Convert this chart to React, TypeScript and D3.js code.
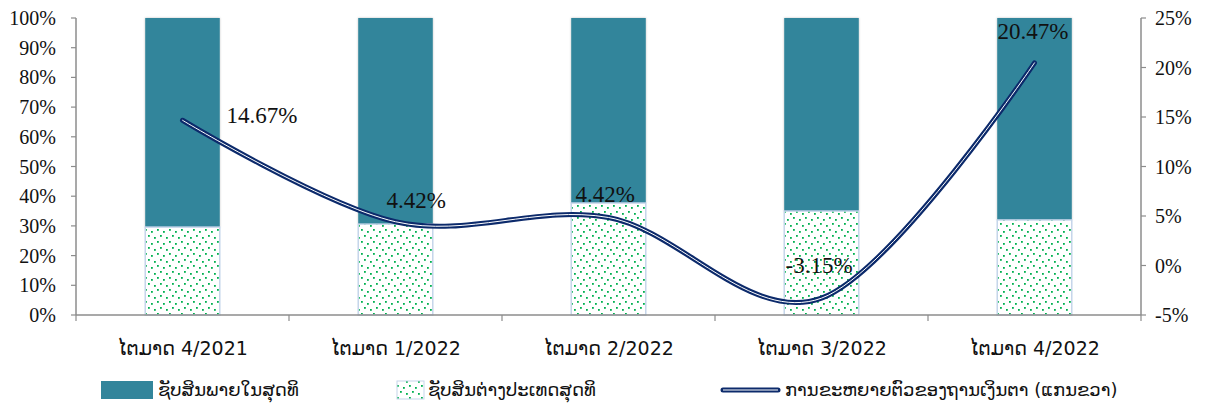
import React from "react";
import * as d3 from "d3";

const categories = ["ໄຕມາດ 4/2021", "ໄຕມາດ 1/2022", "ໄຕມາດ 2/2022", "ໄຕມາດ 3/2022", "ໄຕມາດ 4/2022"];
const foreignShare = [29.6, 30.6, 37.7, 35.0, 32.0];
const domesticShare = [70.4, 69.4, 62.3, 65.0, 68.0];
const growthValues = [14.67, 4.42, 4.85, -3.3, 20.47];
const growthLabels = ["14.67%", "4.42%", "4.42%", "-3.15%", "20.47%"];
const leftTicks = [0, 10, 20, 30, 40, 50, 60, 70, 80, 90, 100];
const rightTicks = [-5, 0, 5, 10, 15, 20, 25];
const legendNames = ["ຊັບສິນພາຍໃນສຸດທິ", "ຊັບສິນຕ່າງປະເທດສຸດທິ", "ການຂະຫຍາຍຕົວຂອງຖານເງິນຕາ (ແກນຂວາ)"];

const W = 1208, H = 405;
const left = 76, right = 1141, top = 18, bottom = 315;
const teal = "#32859b";
const navy = "#0c2a6b";
const axisColor = "#8c8c8c";
const serif = "'Liberation Serif', 'Times New Roman', serif";
const laoFont = "'DejaVu Sans', sans-serif";

// label offsets relative to point (text placement)
const labelDx = [44, -9, -33, -36, -37];
const labelDy = [-5, -22, -24, -33, -32];

export default function App() {
  const x = d3.scaleBand<string>().domain(categories).range([left, right]).paddingInner(0.65).paddingOuter(0.325);
  const yL = d3.scaleLinear().domain([0, 100]).range([bottom, top]);
  const yR = d3.scaleLinear().domain([-5, 25]).range([bottom, top]);
  const cx = (i: number) => (x(categories[i]) as number) + x.bandwidth() / 2;
  const line = d3
    .line<number>()
    .x((_, i) => cx(i))
    .y((d) => yR(d))
    .curve(d3.curveCardinal.tension(0));
  const path = line(growthValues) as string;
  const step = (right - left) / categories.length;

  return (
    <svg width={W} height={H} style={{ display: "block", position: "absolute", left: 0, top: 0 }}>
      <defs>
        <pattern id="dots" width="12" height="12" patternUnits="userSpaceOnUse">
          <rect width="12" height="12" fill="#ffffff" />
          <rect x="1" y="1" width="1.8" height="1.8" fill="#00b050" />
          <rect x="7" y="3" width="1.8" height="1.8" fill="#00b050" />
          <rect x="4" y="7" width="1.8" height="1.8" fill="#00b050" />
          <rect x="10" y="9" width="1.8" height="1.8" fill="#00b050" />
        </pattern>
        <filter id="shadow" x="-10%" y="-10%" width="120%" height="120%">
          <feDropShadow dx="0" dy="0" stdDeviation="1.2" floodColor="#000" floodOpacity="0.25" />
        </filter>
      </defs>

      {categories.map((c, i) => {
        const bx = x(c) as number;
        const bw = x.bandwidth();
        return (
          <g key={c}>
            <rect x={bx} y={yL(100)} width={bw} height={yL(foreignShare[i]) - yL(100)} fill={teal} filter="url(#shadow)" />
            <rect x={bx} y={yL(foreignShare[i])} width={bw} height={yL(0) - yL(foreignShare[i])} fill="url(#dots)" stroke="#c5d5ea" strokeWidth={1.5} />
          </g>
        );
      })}

      {/* axes */}
      <line x1={left} y1={top} x2={left} y2={bottom} stroke={axisColor} strokeWidth={1.5} />
      <line x1={right} y1={top} x2={right} y2={bottom} stroke={axisColor} strokeWidth={1.5} />
      <line x1={left} y1={bottom} x2={right} y2={bottom} stroke={axisColor} strokeWidth={1.5} />
      {leftTicks.map((t) => (
        <g key={"l" + t}>
          <line x1={left - 5} x2={left} y1={yL(t)} y2={yL(t)} stroke={axisColor} strokeWidth={1.2} />
          <text x={left - 20} y={yL(t)} dy="0.35em" textAnchor="end" fontFamily={serif} fontSize={20} fill="#111">
            {t}%
          </text>
        </g>
      ))}
      {rightTicks.map((t) => (
        <g key={"r" + t}>
          <line x1={right} x2={right + 5} y1={yR(t)} y2={yR(t)} stroke={axisColor} strokeWidth={1.2} />
          <text x={right + 14} y={yR(t)} dy="0.35em" textAnchor="start" fontFamily={serif} fontSize={20} fill="#111">
            {t}%
          </text>
        </g>
      ))}
      {d3.range(categories.length + 1).map((i) => (
        <line key={"xt" + i} x1={left + i * step} x2={left + i * step} y1={bottom} y2={bottom + 6} stroke={axisColor} strokeWidth={1.2} />
      ))}
      {categories.map((c, i) => (
        <text key={"xl" + c} x={cx(i)} y={348} dy="0.35em" textAnchor="middle" fontFamily={laoFont} fontSize={19} fill="#111">
          {c}
        </text>
      ))}

      {/* line */}
      <path d={path} fill="none" stroke={navy} strokeWidth={5} strokeLinecap="round" />
      <path d={path} fill="none" stroke="#ffffff" strokeWidth={1} strokeLinecap="round" />

      {growthValues.map((v, i) => (
        <text key={"dl" + i} x={cx(i) + labelDx[i]} y={yR(v) + labelDy[i]} dy="0.35em" fontFamily={serif} fontSize={23} fill="#111" textAnchor="start">
          {growthLabels[i]}
        </text>
      ))}

      {/* legend */}
      <rect x={101} y={381} width={52} height={18} fill={teal} />
      <text x={158} y={390} dy="0.35em" fontFamily={laoFont} fontSize={18} fill="#111">{legendNames[0]}</text>
      <rect x={397} y={381} width={27} height={18} fill="url(#dots)" stroke="#c5d5ea" strokeWidth={1} />
      <text x={428} y={390} dy="0.35em" fontFamily={laoFont} fontSize={18} fill="#111">{legendNames[1]}</text>
      <line x1={723} x2={778} y1={390} y2={390} stroke={navy} strokeWidth={5} strokeLinecap="round" />
      <line x1={723} x2={778} y1={390} y2={390} stroke="#fff" strokeWidth={1} />
      <text x={785} y={390} dy="0.35em" fontFamily={laoFont} fontSize={18} fill="#111">{legendNames[2]}</text>
    </svg>
  );
}
